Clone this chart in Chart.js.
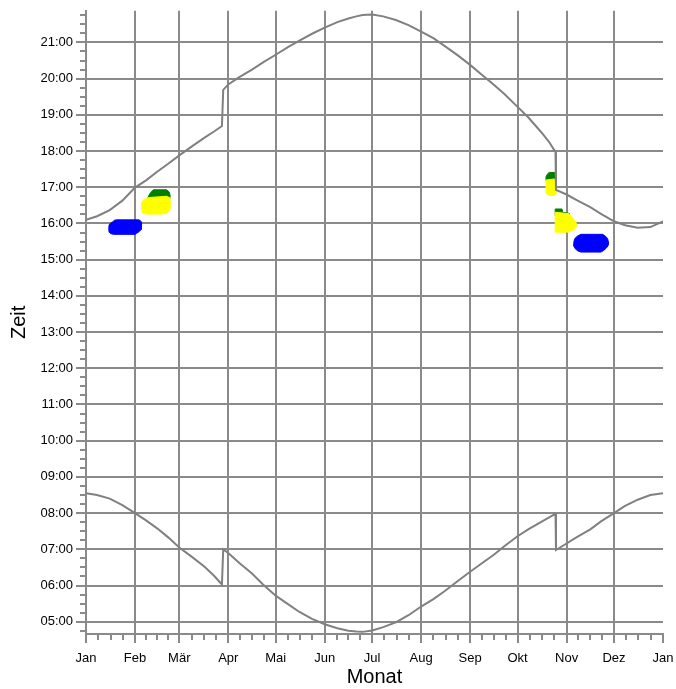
<!DOCTYPE html>
<html>
<head>
<meta charset="utf-8">
<script src="https://cdn.jsdelivr.net/npm/chart.js@4/dist/chart.umd.min.js"></script>
<style>
  html, body { margin: 0; padding: 0; background: #ffffff; }
  canvas { display: block; }
</style>
</head>
<body>
<canvas id="c" width="676" height="689"></canvas>
<script>
// ---- tick labels / categories ----
const monthLabels = ['Jan','Feb','Mär','Apr','Mai','Jun','Jul','Aug','Sep','Okt','Nov','Dez','Jan'];
const monthStartDays = [0,31,59,90,120,151,181,212,243,273,304,334,365];
const hourTicks = [5,6,7,8,9,10,11,12,13,14,15,16,17,18,19,20,21];

// ---- sunset curve (day of year, hour) ----
const sunsetDays  = [0,7,15,23,31,38,45,52,59,67,75,81,86,86.8,90,97,105,112,120,128,135,143,151,159,166,171,175,181,188,196,204,212,220,227,235,243,250,258,265,273,280,288,293,297,297.3,304,311,319,326,334,341,349,357,365];
const sunsetHours = [16.10,16.20,16.37,16.63,16.99,17.19,17.43,17.65,17.88,18.13,18.37,18.54,18.69,19.69,19.84,20.04,20.25,20.45,20.66,20.88,21.05,21.24,21.41,21.56,21.66,21.72,21.76,21.77,21.72,21.62,21.48,21.30,21.11,20.90,20.65,20.38,20.12,19.83,19.56,19.22,18.92,18.52,18.25,17.97,16.93,16.80,16.63,16.45,16.26,16.06,15.95,15.88,15.90,16.06];

// ---- sunrise curve (day of year, hour) ----
const sunriseDays  = [0,7,15,23,31,38,45,52,59,67,75,81,86,86.8,90,97,105,112,120,128,135,143,151,159,166,171,175,181,188,196,204,212,220,227,235,243,250,258,265,273,280,288,293,297,297.3,304,311,319,326,334,341,349,357,365];
const sunriseHours = [8.55,8.50,8.40,8.22,8.00,7.80,7.58,7.33,7.05,6.79,6.52,6.27,6.03,7.00,6.90,6.62,6.33,6.03,5.72,5.48,5.27,5.08,4.93,4.82,4.75,4.73,4.72,4.76,4.85,4.98,5.18,5.42,5.63,5.85,6.12,6.38,6.60,6.85,7.10,7.36,7.56,7.76,7.88,7.98,6.98,7.16,7.35,7.55,7.78,8.00,8.20,8.37,8.50,8.55];

// ---- coloured areas (outline: day of year, hour) ----
const blueJanDays  = [18.0,19.4,33.5,34.6,35.2,35.3,34.8,33.5,32.1,31.0,17.3,15.5,14.6,14.4,14.6,15.6,17.0,18.0];
const blueJanHours = [16.09,16.10,16.10,16.07,16.02,15.93,15.84,15.77,15.73,15.70,15.70,15.72,15.76,15.85,15.96,16.01,16.05,16.09];

const greenFebDays  = [39.0,40.5,42.6,51.0,52.6,53.2,53.1,39.4,39.0];
const greenFebHours = [16.70,16.83,16.93,16.93,16.87,16.78,16.68,16.65,16.70];
const yellowFebDays  = [36.3,38.5,40.5,51.0,53.1,53.4,53.1,51.0,48.0,38.0,35.8,35.2,35.2,36.3];
const yellowFebHours = [16.65,16.70,16.72,16.75,16.71,16.55,16.36,16.28,16.26,16.26,16.30,16.40,16.57,16.65];

const greenOctDays  = [291.0,292.2,293.1,296.2,296.2,291.0,291.0];
const greenOctHours = [17.30,17.38,17.41,17.41,17.20,17.18,17.30];
const yellowOctDays  = [291.0,296.2,297.7,297.7,297.0,296.2,293.1,291.5,291.0,291.0];
const yellowOctHours = [17.20,17.23,17.00,16.86,16.80,16.77,16.77,16.82,16.90,17.20];

const greenNovDays  = [296.8,301.1,301.5,305.7,305.7,296.8,296.8];
const greenNovHours = [16.40,16.40,16.31,16.28,16.22,16.22,16.40];
const yellowNovDays  = [296.8,305.7,307.8,309.9,309.9,307.8,304.7,296.8,296.8];
const yellowNovHours = [16.31,16.27,16.16,16.03,15.90,15.81,15.76,15.76,16.31];

const blueNovDays  = [313.1,326.8,328.6,330.0,330.6,330.2,328.9,327.4,325.7,313.1,311.2,309.5,308.7,308.5,308.8,309.5,311.2,313.1];
const blueNovHours = [15.70,15.70,15.65,15.58,15.46,15.38,15.31,15.25,15.21,15.21,15.24,15.30,15.37,15.44,15.53,15.60,15.66,15.70];

// ---- styles ----
const gridColor = '#8a8a8a';
const curveColor = '#808080';
const FONT = "'Liberation Sans', Arial, Helvetica, sans-serif";

function pts(xs, ys) { return xs.map((x, i) => ({x: x, y: ys[i]})); }

function curve(label, xs, ys) {
  return { label, data: pts(xs, ys), showLine: true, borderColor: curveColor, borderWidth: 2,
           pointRadius: 0, tension: 0, fill: false };
}
function area(label, xs, ys, color) {
  return { label, data: pts(xs, ys), showLine: true, borderColor: color, backgroundColor: color,
           borderWidth: 1, pointRadius: 0, tension: 0, fill: 'shape' };
}

const minorTicks = {
  id: 'minorTicks',
  afterDraw(chart) {
    const {ctx} = chart;
    const xs = chart.scales.x, ys = chart.scales.y;
    ctx.save();
    ctx.strokeStyle = gridColor;
    ctx.lineWidth = 2;
    ctx.beginPath();
    for (let m = 0; m < monthStartDays.length - 1; m++) {
      const s = monthStartDays[m], e = monthStartDays[m + 1];
      for (let k = 1; k < 4; k++) {
        const px = Math.round(xs.getPixelForValue(s + (e - s) * k / 4));
        ctx.moveTo(px, xs.top);
        ctx.lineTo(px, xs.top + 6);
      }
    }
    for (let q = Math.ceil(ys.min * 4); q <= Math.floor(ys.max * 4); q++) {
      if (q % 4 === 0) continue;
      const py = Math.round(ys.getPixelForValue(q / 4));
      ctx.moveTo(ys.right - 6, py);
      ctx.lineTo(ys.right, py);
    }
    ctx.stroke();
    ctx.restore();
  }
};

new Chart(document.getElementById('c'), {
  type: 'scatter',
  data: {
    datasets: [
      curve('Sonnenuntergang', sunsetDays, sunsetHours),
      curve('Sonnenaufgang', sunriseDays, sunriseHours),
      area('gelb Feb', yellowFebDays, yellowFebHours, '#ffff00'),
      area('gelb Okt', yellowOctDays, yellowOctHours, '#ffff00'),
      area('gelb Nov', yellowNovDays, yellowNovHours, '#ffff00'),
      area('grün Feb', greenFebDays, greenFebHours, '#008000'),
      area('grün Okt', greenOctDays, greenOctHours, '#008000'),
      area('grün Nov', greenNovDays, greenNovHours, '#008000'),
      area('blau Jan', blueJanDays, blueJanHours, '#0000ff'),
      area('blau Nov', blueNovDays, blueNovHours, '#0000ff')
    ]
  },
  options: {
    responsive: false,
    animation: false,
    devicePixelRatio: 1,
    layout: { padding: { left: 0, right: 13, top: 10, bottom: 0 } },
    plugins: { legend: { display: false }, tooltip: { enabled: false } },
    scales: {
      x: {
        type: 'linear', position: 'bottom', min: 0, max: 365,
        afterBuildTicks(scale) { scale.ticks = monthStartDays.map(v => ({value: v})); },
        afterFit(scale) { scale.height = 55; scale.paddingLeft = 0; scale.paddingRight = 0; },
        ticks: {
          autoSkip: false, maxRotation: 0, padding: 8, color: '#000',
          font: { family: FONT, size: 13 },
          callback: (v, i) => monthLabels[i]
        },
        grid: {
          color: (ctx) => (ctx.tick && ctx.tick.value === 365) ? 'rgba(0,0,0,0)' : gridColor,
          tickColor: gridColor, lineWidth: 2, tickLength: 9
        },
        border: { display: true, color: gridColor, width: 2 },
        title: { display: true, text: 'Monat', color: '#000', font: { family: FONT, size: 20 }, padding: { top: 0, bottom: 0 } }
      },
      y: {
        type: 'linear', position: 'left', min: 4.661, max: 21.874,
        afterBuildTicks(scale) { scale.ticks = hourTicks.map(v => ({value: v})); },
        afterFit(scale) { scale.width = 86; },
        ticks: {
          autoSkip: false, padding: 3, color: '#000',
          font: { family: FONT, size: 13 },
          callback: (v) => String(v).padStart(2, '0') + ':00'
        },
        grid: { color: gridColor, tickColor: gridColor, lineWidth: 2, tickLength: 10 },
        border: { display: true, color: gridColor, width: 2 },
        title: { display: true, text: 'Zeit', color: '#000', font: { family: FONT, size: 20 }, padding: { top: 7, bottom: 0 } }
      }
    }
  },
  plugins: [minorTicks]
});
</script>
</body>
</html>
